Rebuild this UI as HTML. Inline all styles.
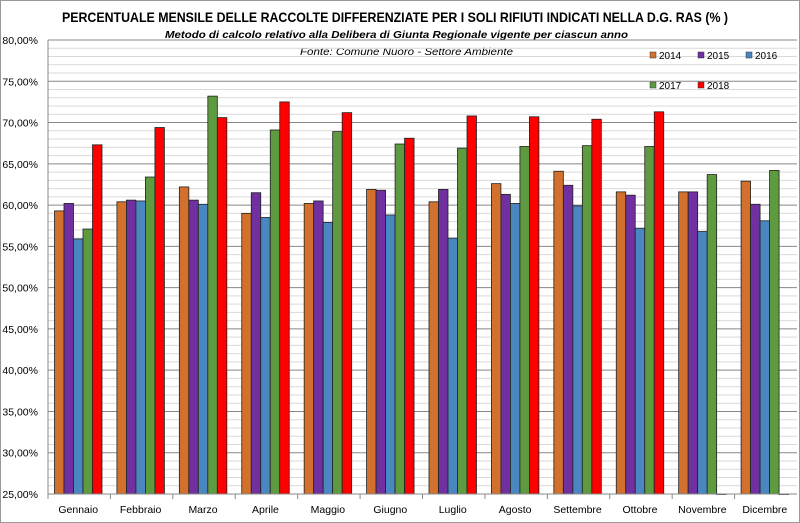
<!DOCTYPE html>
<html><head><meta charset="utf-8"><style>
body{margin:0;background:#fff}
svg{display:block;font-family:"Liberation Sans",sans-serif}
</style></head><body>
<svg id="c" width="800" height="523" xmlns="http://www.w3.org/2000/svg">
<rect x="0.5" y="0.5" width="799" height="522" fill="#fff" stroke="#999"/>
<text x="62" y="22" font-size="14" font-weight="bold" textLength="666" lengthAdjust="spacingAndGlyphs">PERCENTUALE MENSILE DELLE RACCOLTE DIFFERENZIATE PER I SOLI RIFIUTI INDICATI NELLA D.G. RAS (% )</text>
<text x="165" y="38" font-size="10.5" font-weight="bold" font-style="italic" textLength="463" lengthAdjust="spacingAndGlyphs">Metodo di calcolo relativo alla Delibera di Giunta Regionale vigente per ciascun anno</text>
<text x="300" y="55" font-size="10.5" font-style="italic" textLength="213" lengthAdjust="spacingAndGlyphs">Fonte: Comune Nuoro - Settore Ambiente</text>
<g id="g"></g>
</svg>
<script>
var g=document.getElementById('g'),s='';
function Y(v){return 494-(v-25)*454/55;}
for(var v=25;v<=80;v++){var y=Y(v);var maj=(v%5==0);
s+='<line x1="48" x2="797" y1="'+y+'" y2="'+y+'" stroke="'+(maj?'#888':'#d9d9d9')+'" stroke-width="1"/>';
if(maj)s+='<text x="38" y="'+(y+4)+'" text-anchor="end" font-size="10.5">'+v+',00%</text>';}
var d=[[59.3,60.2,55.9,57.1,67.3],[60.4,60.6,60.5,63.4,69.4],[62.2,60.6,60.1,73.2,70.6],[59.0,61.5,58.5,69.1,72.5],[60.2,60.5,57.9,68.9,71.2],[61.9,61.8,58.8,67.4,68.1],[60.4,61.9,56.0,66.9,70.8],[62.6,61.3,60.2,67.1,70.7],[64.1,62.4,59.9,67.2,70.4],[61.6,61.2,57.2,67.1,71.3],[61.6,61.6,56.8,63.7,25],[62.9,60.1,58.1,64.2,25]];
var col=['#D2702E','#7030A0','#4A86C0','#5E9A3F','#FF0000'];
var m=['Gennaio','Febbraio','Marzo','Aprile','Maggio','Giugno','Luglio','Agosto','Settembre','Ottobre','Novembre','Dicembre'];
var W=749/12;
for(var i=0;i<12;i++){var x0=48+i*W;
for(var k=0;k<5;k++){var v=d[i][k];var y=Y(v);var h=494-y;if(h<0.5)h=0.5;
s+='<rect x="'+(x0+6.5+k*9.5)+'" y="'+y+'" width="9.5" height="'+h+'" fill="'+col[k]+'" stroke="#222" stroke-width="0.8"/>';}
s+='<text x="'+(x0+W/2-1)+'" y="513" text-anchor="middle" font-size="10.5">'+m[i]+'</text>';
s+='<line x1="'+x0+'" x2="'+x0+'" y1="494" y2="499" stroke="#888"/>';}
s+='<line x1="48" x2="48" y1="40" y2="494" stroke="#888"/><line x1="48" x2="797" y1="494" y2="494" stroke="#888"/>';
var lg=[[650,57,'2014',0],[698,57,'2015',1],[746,57,'2016',2],[650,87,'2017',3],[698,87,'2018',4]];
lg.forEach(function(l){s+='<rect x="'+l[0]+'" y="'+(l[1]-5)+'" width="6" height="6" fill="'+col[l[3]]+'" stroke="#333" stroke-width="0.5"/><text x="'+(l[0]+9)+'" y="'+(l[1]+2)+'" font-size="10">'+l[2]+'</text>';});
g.innerHTML=s;
</script>
</body></html>
